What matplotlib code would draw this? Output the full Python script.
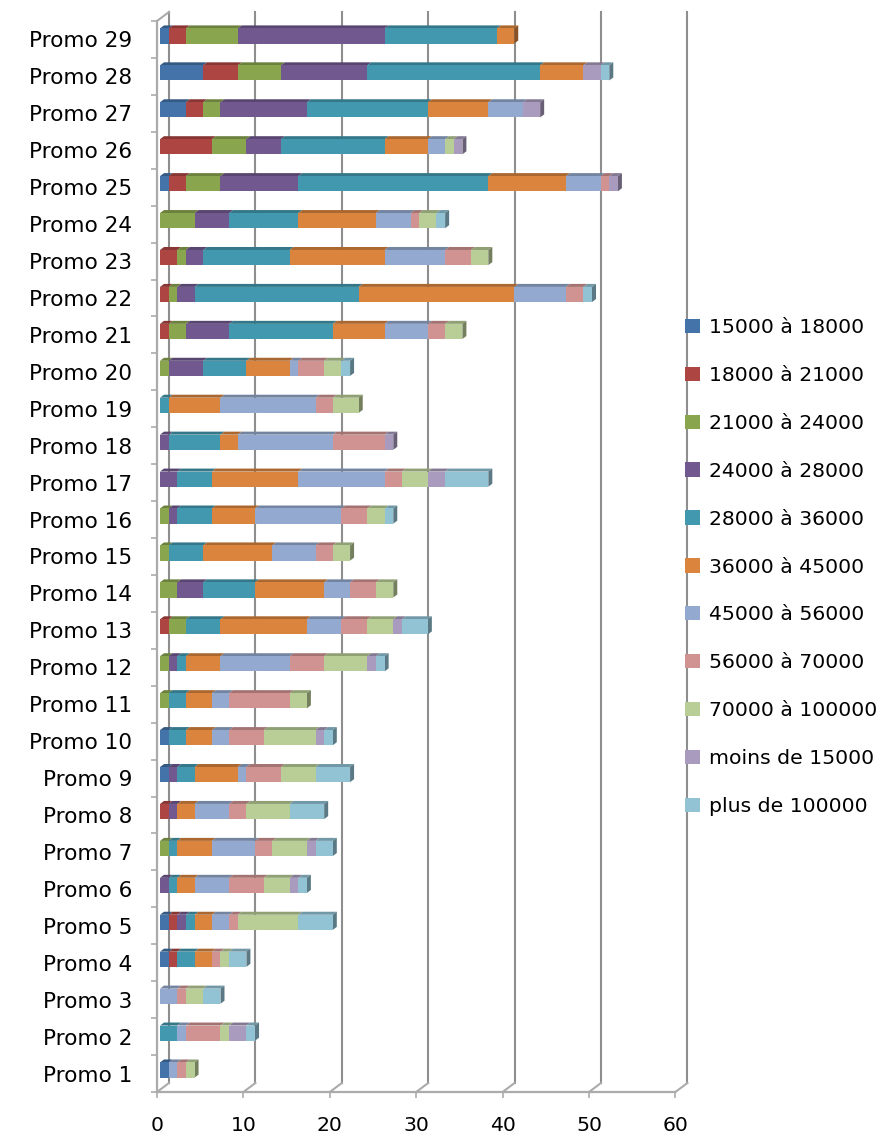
import matplotlib
matplotlib.use('Agg')
import matplotlib.pyplot as plt
import numpy as np
from matplotlib.patches import Patch, Polygon
from matplotlib.transforms import Affine2D

promos = ['Promo %d' % i for i in range(1, 30)]
x_ticks = [0, 10, 20, 30, 40, 50, 60]

# valeurs de Promo 1 a Promo 29
s_15_18 = [1, 0, 0, 1, 1, 0, 0, 0, 1, 1, 0, 0, 0, 0, 0, 0, 0, 0, 0, 0, 0, 0, 0, 0, 1, 0, 3, 5, 1]
s_18_21 = [0, 0, 0, 1, 1, 0, 0, 1, 0, 0, 0, 0, 1, 0, 0, 0, 0, 0, 0, 0, 1, 1, 2, 0, 2, 6, 2, 4, 2]
s_21_24 = [0, 0, 0, 0, 0, 0, 1, 0, 0, 0, 1, 1, 2, 2, 1, 1, 0, 0, 0, 1, 2, 1, 1, 4, 4, 4, 2, 5, 6]
s_24_28 = [0, 0, 0, 0, 1, 1, 0, 1, 1, 0, 0, 1, 0, 3, 0, 1, 2, 1, 0, 4, 5, 2, 2, 4, 9, 4, 10, 10, 17]
s_28_36 = [0, 2, 0, 2, 1, 1, 1, 0, 2, 2, 2, 1, 4, 6, 4, 4, 4, 6, 1, 5, 12, 19, 10, 8, 22, 12, 14, 20, 13]
s_36_45 = [0, 0, 0, 2, 2, 2, 4, 2, 5, 3, 3, 4, 10, 8, 8, 5, 10, 2, 6, 5, 6, 18, 11, 9, 9, 5, 7, 5, 2]
s_45_56 = [1, 1, 2, 0, 2, 4, 5, 4, 1, 2, 2, 8, 4, 3, 5, 10, 10, 11, 11, 1, 5, 6, 7, 4, 4, 2, 4, 0, 0]
s_56_70 = [1, 4, 1, 1, 1, 4, 2, 2, 4, 4, 7, 4, 3, 3, 2, 3, 2, 6, 2, 3, 2, 2, 3, 1, 1, 0, 0, 0, 0]
s_70_100 = [1, 1, 2, 1, 7, 3, 4, 5, 4, 6, 2, 5, 3, 2, 2, 2, 3, 0, 3, 2, 2, 0, 2, 2, 0, 1, 0, 0, 0]
s_moins = [0, 2, 0, 0, 0, 1, 1, 0, 0, 1, 0, 1, 1, 0, 0, 0, 2, 1, 0, 0, 0, 0, 0, 0, 1, 1, 2, 2, 0]
s_plus = [0, 1, 2, 2, 4, 1, 2, 4, 4, 1, 0, 1, 3, 0, 0, 1, 5, 0, 0, 1, 0, 1, 0, 1, 0, 0, 0, 1, 0]

series = [s_15_18, s_18_21, s_21_24, s_24_28, s_28_36, s_36_45,
          s_45_56, s_56_70, s_70_100, s_moins, s_plus]
labels = ['15000 à 18000', '18000 à 21000', '21000 à 24000', '24000 à 28000',
          '28000 à 36000', '36000 à 45000', '45000 à 56000', '56000 à 70000',
          '70000 à 100000', 'moins de 15000', 'plus de 100000']
colors = ['#4373A8', '#AD4543', '#89A54E', '#71588F', '#4298AF', '#DB843D',
          '#93A9CF', '#D19392', '#B9CD96', '#A99BBD', '#91C3D5']

W, H = 896, 1136
GRID = '#8E8E8E'
WALL = '#ABABAB'
FONT = 14.7


def darker(color, k):
    rgb = np.array(matplotlib.colors.to_rgb(color))
    return tuple(rgb * k)


def shifted(dx, dy):
    # decalage en pixels pour simuler la profondeur 3D
    return ax.transData + Affine2D().translate(dx, dy)


fig = plt.figure(figsize=(W / 100, H / 100), dpi=100)
ax = fig.add_axes([157 / W, (H - 1092) / H, 518.4 / W, 1071 / H])
ax.set_xlim(0, 60)
ax.set_ylim(-0.5, 28.5)
for s in ax.spines.values():
    s.set_visible(False)

# murs et grille
for t in x_ticks:
    ax.plot([t, t], [-0.5, 28.5], transform=shifted(12, 9), color=GRID, lw=1.5, zorder=1, clip_on=False)
    p0 = ax.transData.transform((t, -0.5))
    ax.add_line(plt.Line2D([p0[0], p0[0] + 12], [p0[1], p0[1] + 9], transform=None,
                           color=WALL, lw=1.5, zorder=1, clip_on=False))
p_top = ax.transData.transform((0, 28.5))
ax.add_line(plt.Line2D([p_top[0], p_top[0] + 12], [p_top[1], p_top[1] + 9], transform=None,
                       color=WALL, lw=1.5, zorder=1, clip_on=False))
ax.plot([0, 0], [-0.5, 28.5], color=WALL, lw=1.6, zorder=1, clip_on=False)
ax.plot([0, 60], [-0.5, -0.5], color=WALL, lw=1.6, zorder=1, clip_on=False)

# barres empilees : face avant, dessus et cote
y_pos = np.arange(len(promos))
bar_h = 0.41
dx, dy = 3, 3.5
depth_x, depth_y = 4, 3
left = np.zeros(len(promos))
for vals, col in zip(series, colors):
    vals = np.array(vals, dtype=float)
    ax.barh(y_pos, vals, left=left, height=bar_h, color=col,
            transform=shifted(dx, dy), zorder=3, clip_on=False)
    for y, v, l in zip(y_pos, vals, left):
        if v == 0:
            continue
        x0, ytop = ax.transData.transform((l, y + bar_h / 2)) + (dx, dy)
        x1, _ = ax.transData.transform((l + v, y)) + (dx, dy)
        ax.add_patch(Polygon([(x0, ytop), (x1, ytop), (x1 + depth_x, ytop + depth_y),
                              (x0 + depth_x, ytop + depth_y)], closed=True, transform=None,
                             facecolor=darker(col, 0.78), edgecolor='none', zorder=2.5, clip_on=False))
    left = left + vals

# cote droit de la derniere serie de chaque barre
totals = left
for i, y in enumerate(y_pos):
    last = [c for vals, c in zip(series, colors) if vals[i] > 0][-1]
    x1, ytop = ax.transData.transform((totals[i], y + bar_h / 2)) + (dx, dy)
    _, ybot = ax.transData.transform((totals[i], y - bar_h / 2)) + (dx, dy)
    ax.add_patch(Polygon([(x1, ytop), (x1 + depth_x, ytop + depth_y), (x1 + depth_x, ybot + depth_y),
                          (x1, ybot)], closed=True, transform=None,
                         facecolor=darker(last, 0.62), edgecolor='none', zorder=2.6, clip_on=False))

ax.set_xticks(x_ticks)
ax.set_xticklabels([str(t) for t in x_ticks], fontsize=FONT)
ax.tick_params(axis='x', length=4, width=1.2, color=WALL, pad=13)
ax.set_yticks(y_pos)
ax.set_yticklabels(promos, fontsize=15.6)
ax.tick_params(axis='y', length=0, pad=18)
ax.set_yticks(np.arange(-0.5, 29), minor=True)
ax.tick_params(axis='y', which='minor', length=4, width=1.2, color=WALL)

handles = [Patch(facecolor=c, edgecolor='none', label=l) for c, l in zip(colors, labels)]
fig.legend(handles=handles, loc='upper left', bbox_to_anchor=(681 / W, (H - 314) / H),
           frameon=False, fontsize=FONT, handlelength=0.75, handleheight=0.7,
           handletextpad=0.4, labelspacing=1.415, borderpad=0.2, borderaxespad=0)

fig.savefig('out.png', dpi=100)
